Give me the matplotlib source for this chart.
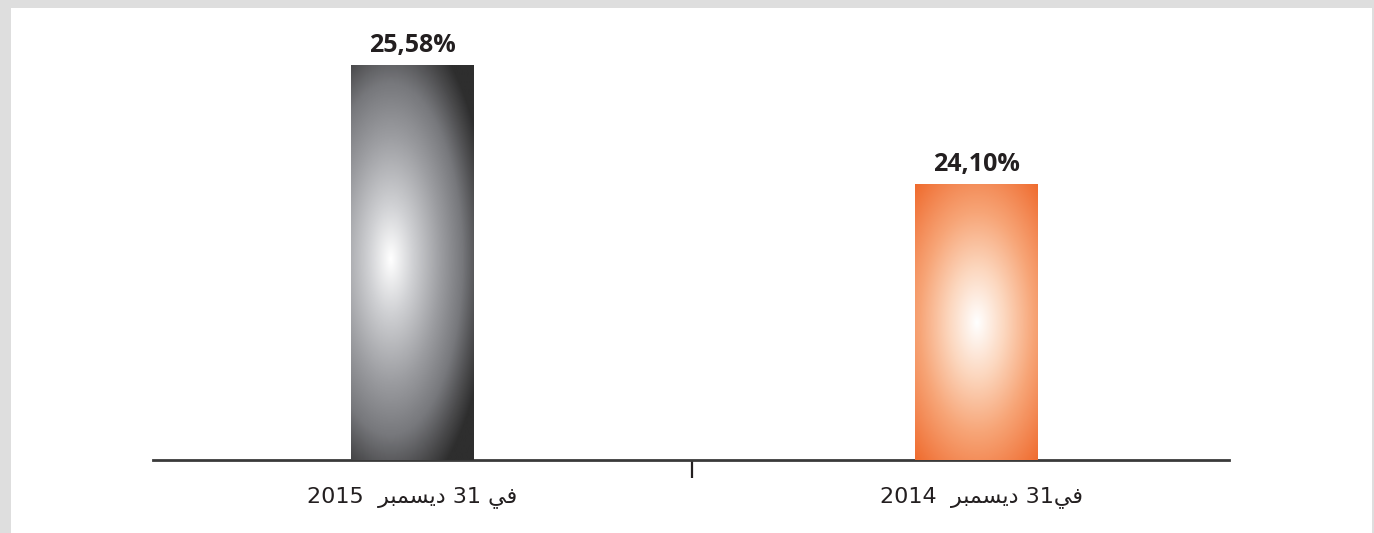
import re
import numpy as np
import matplotlib
matplotlib.use("Agg")
import matplotlib.pyplot as plt
from matplotlib.colors import LinearSegmentedColormap
from matplotlib.patches import Rectangle

# data
categories = ["في 31 ديسمبر  2015", "في31 ديسمبر  2014"]
values = [25.58, 24.10]
value_labels = ["25,58%", "24,10%"]
y_base = 20.67

# arabic presentation forms (iso, fin, ini, med) for the letters used
FORMS = {
    "ف": ("\uFED1", "\uFED2", "\uFED3", "\uFED4"),
    "ي": ("\uFEF1", "\uFEF2", "\uFEF3", "\uFEF4"),
    "س": ("\uFEB1", "\uFEB2", "\uFEB3", "\uFEB4"),
    "م": ("\uFEE1", "\uFEE2", "\uFEE3", "\uFEE4"),
    "ب": ("\uFE8F", "\uFE90", "\uFE91", "\uFE92"),
    "د": ("\uFEA9", "\uFEAA", None, None),
    "ر": ("\uFEAD", "\uFEAE", None, None),
}


def shape_word(word):
    out = []
    for i, ch in enumerate(word):
        prev = word[i - 1] if i > 0 else None
        nxt = word[i + 1] if i < len(word) - 1 else None
        joins_prev = prev is not None and FORMS[prev][2] is not None
        joins_next = nxt is not None and FORMS[ch][2] is not None
        iso, fin, ini, med = FORMS[ch]
        if joins_prev and joins_next:
            out.append(med)
        elif joins_prev:
            out.append(fin)
        elif joins_next:
            out.append(ini)
        else:
            out.append(iso)
    return "".join(reversed(out))


def visual(text):
    # very small bidi: reverse runs, shape arabic runs
    tokens = re.findall(r"[\u0600-\u06FF]+|\d+|\s+", text)
    return "".join(shape_word(t) if t[0] in FORMS else t for t in reversed(tokens))


gray_cmap = LinearSegmentedColormap.from_list(
    "g", [(0, "#ffffff"), (0.22, "#d0d1d4"), (0.5, "#9c9da1"),
          (0.72, "#77787c"), (0.88, "#4c4c4e"), (1, "#2e2e2e")])
orange_cmap = LinearSegmentedColormap.from_list(
    "o", [(0, "#ffffff"), (0.3, "#fcd6bd"), (0.6, "#f7a577"),
          (0.85, "#f28049"), (1, "#ef6a2c")])
# gradient center / radii as fractions of bar width (cy from top)
grad = [(gray_cmap, 0.32, 0.49, 0.81, 2.0),
        (orange_cmap, 0.5, 0.5, 0.77, 1.5)]


def gradient_bar(ax, bar, cmap, cx, cy, rx, ry):
    x0, y0 = bar.get_x(), bar.get_y()
    w, h = bar.get_width(), bar.get_height()
    (px0, py0), (px1, py1) = ax.transData.transform([(x0, y0), (x0 + w, y0 + h)])
    nx, ny = int(px1 - px0), int(py1 - py0)
    X, Y = np.meshgrid(np.arange(nx), np.arange(ny))
    d = np.sqrt(((X - cx * nx) / (rx * nx)) ** 2 + ((Y - cy * ny) / (ry * nx)) ** 2)
    img = ax.imshow(np.clip(d, 0, 1), cmap=cmap, vmin=0, vmax=1,
                    extent=(x0, x0 + w, y0, y0 + h), origin="upper",
                    aspect="auto", interpolation="bilinear", zorder=3)
    img.set_clip_path(bar)


fig = plt.figure(figsize=(13.74, 5.33), dpi=100)
fig.patch.set_facecolor("#dedede")
fig.add_artist(Rectangle((11 / 1374, 0), 1361 / 1374, 525 / 533,
                         transform=fig.transFigure, facecolor="white",
                         edgecolor="none", zorder=-1))

ax = fig.add_axes([153 / 1374, 73 / 533, 1076 / 1374, 460 / 533])
ax.set_facecolor("none")
xlim = (-0.46, 1.448)
ylim = (y_base, y_base + 460 / 80.4)
ax.set_xlim(*xlim)
ax.set_ylim(*ylim)

x = np.arange(len(values))
bars = ax.bar(x, [v - y_base for v in values], bottom=y_base, width=0.218,
              color="none", edgecolor="none", zorder=2)

for b, (cmap, cx, cy, rx, ry) in zip(bars, grad):
    gradient_bar(ax, b, cmap, cx, cy, rx, ry)
ax.set_xlim(*xlim)
ax.set_ylim(*ylim)

for xi, v, lab in zip(x, values, value_labels):
    ax.annotate(lab, (xi, v), xytext=(0, 5), textcoords="offset points",
                ha="center", va="bottom", fontsize=18, fontweight="bold",
                family="Open Sans", color="#231f20")

for xi, cat in zip(x, categories):
    ax.annotate(visual(cat), (xi, y_base), xytext=(4 * xi, -27), textcoords="offset points",
                ha="center", va="center", fontsize=16, family="DejaVu Sans",
                color="#231f20", annotation_clip=False)

for s in ["top", "left", "right"]:
    ax.spines[s].set_visible(False)
ax.spines["bottom"].set_color("#3a3a3a")
ax.spines["bottom"].set_linewidth(2)
ax.set_yticks([])
ax.set_xticks([0.4955])
ax.set_xticklabels([])
ax.tick_params(axis="x", length=13, width=1.6, color="#231f20")

fig.savefig("out.png", dpi=100, facecolor=fig.get_facecolor())
